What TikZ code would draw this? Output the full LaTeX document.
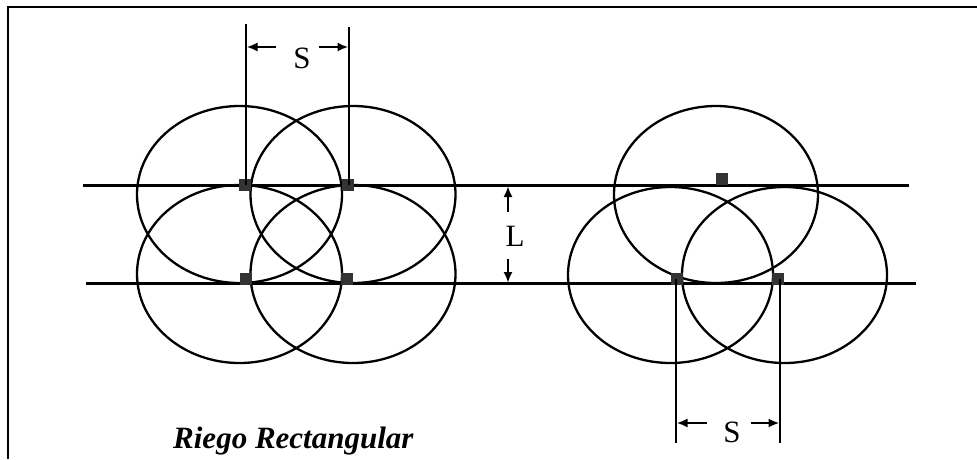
\documentclass[tikz,border=0pt]{standalone}
\usepackage{fontspec}
\setmainfont{Liberation Serif}
\usetikzlibrary{arrows.meta}
\begin{document}
\begin{tikzpicture}[x=1pt,y=-1pt,
  pipe/.style={line width=3pt},
  wet/.style={line width=2.3pt},
  dimline/.style={line width=1.8pt},
  dimarrow/.style={line width=2.4pt,-{Latex[length=11pt,width=9pt]}},
  spr/.style={fill=black!80,minimum size=12pt,inner sep=0pt,draw=none,rectangle},
  lab/.style={font=\fontsize{31}{31}\selectfont,inner sep=0pt,anchor=base}]
\useasboundingbox (0,0) rectangle (977,459);
% frame (top and left only)
\draw[line width=1.6pt] (8,459) -- (8,7) -- (977,7);
% laterals
\coordinate (t1) at (83,185); \coordinate (t2) at (909,185);
\coordinate (b1) at (86,283); \coordinate (b2) at (916,283);
\draw[pipe] (t1) -- (t2);
\draw[pipe] (b1) -- (b2);
% left group: wetted ellipses
\draw[wet] (239.5,194.5) ellipse [x radius=102.5pt, y radius=88.5pt];
\draw[wet] (353,194.5) ellipse [x radius=102.5pt, y radius=88.5pt];
\draw[wet] (239.5,274) ellipse [x radius=102.5pt, y radius=89pt];
\draw[wet] (353,274) ellipse [x radius=102.5pt, y radius=89pt];
% right group
\draw[wet] (716,194.5) ellipse [x radius=102pt, y radius=88.5pt];
\draw[wet] (670.5,275) ellipse [x radius=102.5pt, y radius=88pt];
\draw[wet] (784.5,275) ellipse [x radius=102.5pt, y radius=88pt];
% sprinklers
\node[spr] (s1) at (245,185) {};
\node[spr] (s2) at (348,185) {};
\node[spr] (s3) at (245.5,278.5) {};
\node[spr] (s4) at (347,278.5) {};
\node[spr] (s5) at (722,179) {};
\node[spr] (s6) at (677,278.5) {};
\node[spr] (s7) at (778,278.5) {};
% top dimension S
\coordinate (d1) at (246,24); \coordinate (d2) at (349,27);
\draw[dimline] (s1.center -| d1) -- (d1);
\draw[dimline] (s2.center -| d2) -- (d2);
\node[lab] (S1) at (302,68) {S};
\coordinate (a1t) at (276,47); \coordinate (a1h) at (246.5,47);
\coordinate (a2t) at (319,47); \coordinate (a2h) at (348.5,47);
\draw[dimarrow] (a1t) -- (a1h);
\draw[dimarrow] (a2t) -- (a2h);
% L dimension
\node[lab] (L) at (515,246) {L};
\coordinate (l1t) at (508,212); \coordinate (l1h) at (508,186);
\coordinate (l2t) at (508,259); \coordinate (l2h) at (508,283);
\draw[dimarrow] (l1t) -- (l1h);
\draw[dimarrow] (l2t) -- (l2h);
% bottom dimension S
\coordinate (e1) at (676,443); \coordinate (e2) at (780,443);
\draw[dimline] (s6.center -| e1) -- (e1);
\draw[dimline] (s7.center -| e2) -- (e2);
\node[lab] (S2) at (732,442) {S};
\coordinate (c1t) at (707,423); \coordinate (c1h) at (676.5,423);
\coordinate (c2t) at (751,423); \coordinate (c2h) at (779.5,423);
\draw[dimarrow] (c1t) -- (c1h);
\draw[dimarrow] (c2t) -- (c2h);
% title
\node[lab,anchor=base west,font=\fontsize{31}{31}\selectfont\bfseries\itshape] (title) at (173,448) {Riego Rectangular};
\end{tikzpicture}
\end{document}
